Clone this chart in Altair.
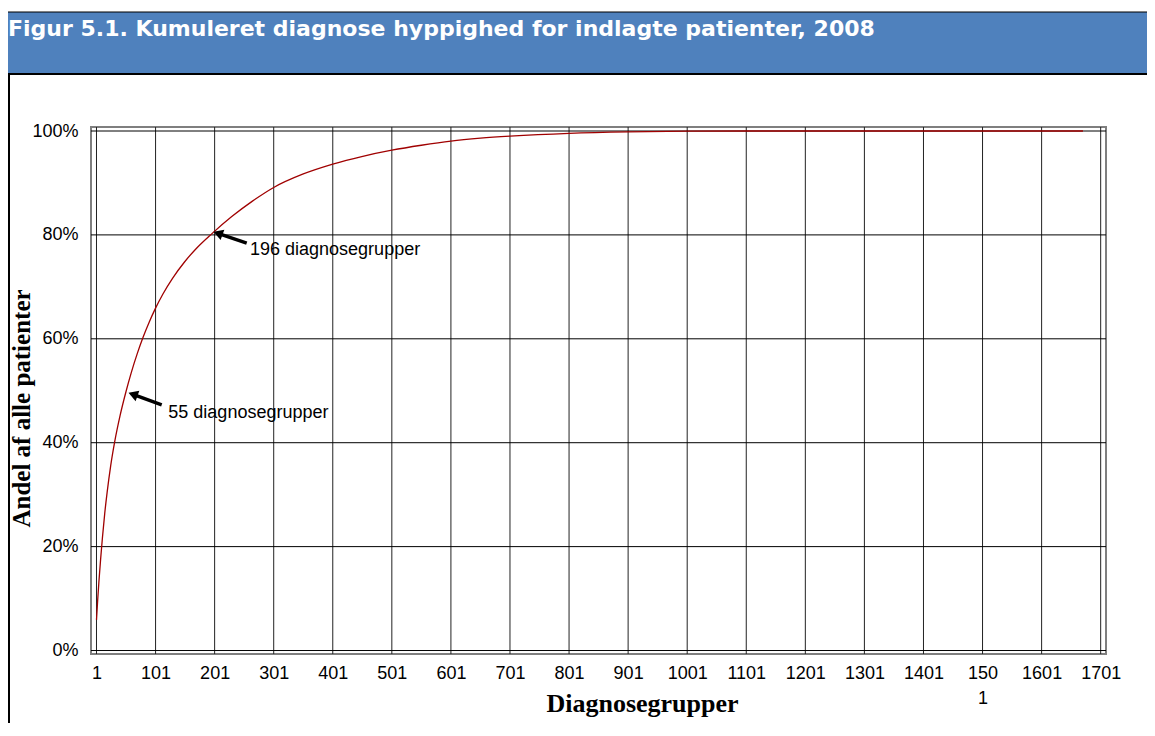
import altair as alt
import pandas as pd

# ---- data ----
groups = [1, 3, 5, 8, 11, 15, 19, 25, 32, 41, 51, 60, 70, 80, 90, 101, 113, 130, 150, 170,
          196, 230, 265, 301, 350, 401, 450, 501, 551, 601, 651, 701, 801, 901, 1001,
          1101, 1201, 1301, 1401, 1501, 1601, 1671]
share = [0.059, 0.097, 0.131, 0.176, 0.2165, 0.2645, 0.3045, 0.3555, 0.403, 0.4526, 0.4986,
         0.5355, 0.5715, 0.6035, 0.6315, 0.659, 0.6854, 0.7169, 0.7479, 0.7739,
         0.802, 0.8353, 0.865, 0.8913, 0.9168, 0.9362, 0.9509, 0.9631, 0.9726, 0.9806,
         0.9861, 0.9901, 0.9956, 0.9984, 0.9996,
         1.0, 1.0, 1.0, 1.0, 1.0, 1.0, 1.0]

x_ticks = [1, 101, 201, 301, 401, 501, 601, 701, 801, 901, 1001, 1101, 1201, 1301, 1401, 1501, 1601, 1701]
y_ticks = [0, 0.2, 0.4, 0.6, 0.8, 1.0]

ann_labels = ["196 diagnosegrupper", "55 diagnosegrupper"]
ann_text_x = [260.9, 122.6]
ann_text_y = [0.762, 0.447]
arrow_tail_x = [255.3, 111.4]
arrow_tail_y = [0.784, 0.473]
arrow_head_x = [206.7, 62.8]
arrow_head_y = [0.803, 0.493]

title_text = "Figur 5.1. Kumuleret diagnose hyppighed for indlagte patienter, 2008"
x_title = "Diagnosegrupper"
y_title = "Andel af alle patienter"

W, H = 1015, 527
PL, PT, PR, PB = 83, 119, 41, 69
xscale = alt.Scale(domain=[-8.3, 1710], nice=False, zero=False)
yscale = alt.Scale(domain=[-0.0067, 1.0077], nice=False, zero=False)

xaxis = alt.Axis(values=x_ticks, format="d", title=x_title, grid=False, domain=False, ticks=False,
                 labelPadding=10, labelFontSize=18, labelFont="Liberation Sans",
                 labelColor="#000", labelLineHeight=25,
                 labelExpr="datum.value == 1501 ? ['150', '1'] : datum.label",
                 labelOverlap=False, labelFlush=False,
                 titleFont="Liberation Serif", titleFontWeight="bold", titleFontSize=26,
                 titleColor="#000", titleX=551, titleY=57, titleAlign="center",
                 titleBaseline="alphabetic")
yaxis = alt.Axis(values=y_ticks, format=".0%", title=y_title, grid=False, domain=False,
                 ticks=False, labelPadding=13, labelFontSize=18, labelFont="Liberation Sans",
                 labelColor="#000",
                 titleFont="Liberation Serif", titleFontWeight="bold", titleFontSize=25,
                 titleColor="#000", titleAngle=270, titleX=-62, titleY=281,
                 titleAlign="center", titleBaseline="alphabetic")

df = pd.DataFrame({"group": groups, "share": share})
ann = pd.DataFrame({"label": ann_labels, "tx": ann_text_x, "ty": ann_text_y,
                    "x0": arrow_tail_x, "y0": arrow_tail_y,
                    "x1": arrow_head_x, "y1": arrow_head_y})
one = alt.Data(values=[{}])

vgrid = alt.Chart(pd.DataFrame({"g": x_ticks})).mark_rule(color="#222222", strokeWidth=1).encode(
    x=alt.X("g:Q", scale=xscale, axis=xaxis), y=alt.value(0), y2=alt.value(H))
hgrid = alt.Chart(pd.DataFrame({"p": y_ticks})).mark_rule(color="#000000", strokeWidth=1).encode(
    y=alt.Y("p:Q", scale=yscale, axis=yaxis), x=alt.value(0), x2=alt.value(W))

curve = alt.Chart(df).mark_line(color="#A00000", strokeWidth=1.3, interpolate="monotone").encode(
    x=alt.X("group:Q", scale=xscale, axis=xaxis),
    y=alt.Y("share:Q", scale=yscale, axis=yaxis),
)

arrow_lines = alt.Chart(ann).mark_rule(color="#000", strokeWidth=3.5).encode(
    x=alt.X("x0:Q", scale=xscale, axis=xaxis), y=alt.Y("y0:Q", scale=yscale, axis=yaxis),
    x2="x1:Q", y2="y1:Q")
arrow_heads = alt.Chart(ann).mark_point(shape="triangle-up", filled=True, size=120, angle=290,
                                         color="#000", opacity=1).encode(
    x=alt.X("x1:Q", scale=xscale, axis=xaxis), y=alt.Y("y1:Q", scale=yscale, axis=yaxis))
ann_text = alt.Chart(ann).mark_text(align="left", baseline="alphabetic", fontSize=18,
                                    font="Liberation Sans", color="#000").encode(
    x=alt.X("tx:Q", scale=xscale, axis=xaxis), y=alt.Y("ty:Q", scale=yscale, axis=yaxis),
    text="label:N")

bar = alt.Chart(one).mark_rect(color="#4F81BD").encode(
    x=alt.value(-PL), x2=alt.value(W + PR), y=alt.value(-115), y2=alt.value(-53))
bar_top = alt.Chart(one).mark_rule(color="#000", strokeWidth=1.2).encode(
    x=alt.value(-PL), x2=alt.value(W + PR), y=alt.value(-115))
bar_bottom = alt.Chart(one).mark_rule(color="#000", strokeWidth=2).encode(
    x=alt.value(-PL), x2=alt.value(W + PR), y=alt.value(-53))
left_border = alt.Chart(one).mark_rule(color="#000", strokeWidth=2).encode(
    x=alt.value(-PL + 1), y=alt.value(-53), y2=alt.value(H + PB))
title = alt.Chart(one).mark_text(text=title_text, align="left", baseline="alphabetic",
                                 font="DejaVu Sans", fontWeight="bold", fontSize=22,
                                 color="#FFFFFF").encode(x=alt.value(-PL), y=alt.value(-91.3))

chart = alt.layer(vgrid, hgrid, curve, arrow_lines, arrow_heads, ann_text,
                  bar, bar_top, bar_bottom, left_border, title).properties(
    width=W, height=H,
    autosize=alt.AutoSizeParams(type="none"),
    padding={"left": PL, "top": PT, "right": PR, "bottom": PB},
    background="#FFFFFF",
).configure_view(stroke="#7F7F7F", strokeWidth=2)

chart.save("out.html", embed_options={"renderer": "svg", "actions": False})
